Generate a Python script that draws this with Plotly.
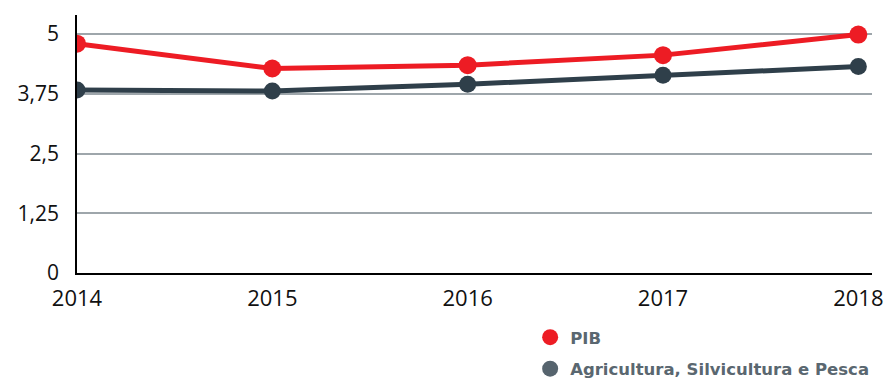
import plotly.graph_objects as go

years = [2014, 2015, 2016, 2017, 2018]
pib = [4.80, 4.28, 4.35, 4.56, 4.99]
agricultura = [3.83, 3.81, 3.95, 4.14, 4.32]
y_ticks = [0, 1.25, 2.5, 3.75, 5]
y_tick_labels = ["0", "1,25", "2,5", "3,75", "5"]

RED = "#ED1C24"
DARK = "#2F3F4A"
LEGEND_DARK = "#56646E"

fig = go.Figure()
fig.add_trace(go.Scatter(
    x=years, y=agricultura, mode="lines+markers", showlegend=False,
    line=dict(color=DARK, width=5), marker=dict(color=DARK, size=17),
))
fig.add_trace(go.Scatter(
    x=years, y=pib, mode="lines+markers", showlegend=False,
    line=dict(color=RED, width=5), marker=dict(color=RED, size=18),
))
# legend entries (markers only), each in its own group for row spacing
fig.add_trace(go.Scatter(
    x=[None], y=[None], mode="markers", name="PIB", legendgroup="pib",
    marker=dict(color=RED, size=20),
))
fig.add_trace(go.Scatter(
    x=[None], y=[None], mode="markers", name="Agricultura, Silvicultura e Pesca",
    legendgroup="agri", marker=dict(color=LEGEND_DARK, size=20),
))

fig.update_layout(
    width=886, height=379,
    margin=dict(l=77, r=14, t=15, b=106, autoexpand=False),
    paper_bgcolor="white", plot_bgcolor="white",
    font=dict(family="Open Sans, sans-serif", color="#111111"),
    showlegend=True,
    legend=dict(
        x=0.570, y=-0.182, xanchor="left", yanchor="top",
        orientation="v", itemsizing="trace", tracegroupgap=7,
        font=dict(family="DejaVu Sans, sans-serif", size=16.5, color="#5A6770", weight="bold"),
        bgcolor="rgba(0,0,0,0)", itemwidth=30,
    ),
    xaxis=dict(
        range=[2014, 2018.07], tickvals=years, ticktext=[str(y) for y in years],
        showgrid=False, zeroline=False, showline=True, linecolor="#000000", linewidth=1.5,
        ticks="", tickfont=dict(size=22, color="#111111", weight=500), ticklabelstandoff=5,
    ),
    yaxis=dict(
        range=[0, 5.4], tickvals=y_ticks, ticktext=y_tick_labels,
        showgrid=True, gridcolor="#9EA6AB", gridwidth=1.5,
        zeroline=False, showline=True, linecolor="#000000", linewidth=1.5,
        ticks="", tickfont=dict(size=21, color="#111111"), ticklabelstandoff=12,
    ),
)

fig.write_html("out.html")
